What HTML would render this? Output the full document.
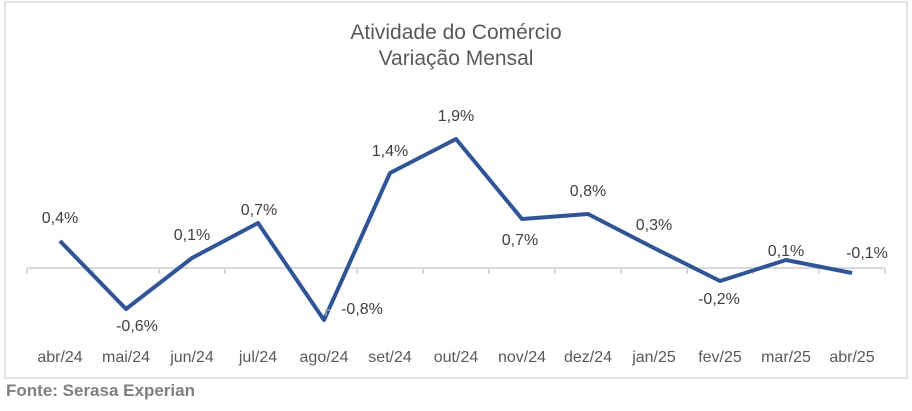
<!DOCTYPE html>
<html><head><meta charset="utf-8"><style>
body{margin:0;background:#fff;width:912px;height:406px;overflow:hidden;font-family:"Liberation Sans",sans-serif}
</style></head><body>
<svg width="912" height="406" xmlns="http://www.w3.org/2000/svg" font-family="Liberation Sans, sans-serif">
<rect x="5" y="2" width="902" height="376" fill="#fff" stroke="#d9d9d9" stroke-width="1.5"/>
<text x="456" y="39" text-anchor="middle" font-size="21" fill="#595959">Atividade do Comércio</text>
<text x="456" y="65" text-anchor="middle" font-size="21" fill="#595959">Variação Mensal</text>
<g stroke="#d9d9d9" stroke-width="2">
<line x1="27" y1="268" x2="885" y2="268"/>
<path d="M27 268v6M93 268v6M159 268v6M225 268v6M291 268v6M357 268v6M423 268v6M489 268v6M555 268v6M621 268v6M687 268v6M753 268v6M819 268v6M885 268v6"/>
</g>
<polyline fill="none" stroke="#2F5597" stroke-width="4" stroke-linejoin="round" points="60,241 126,309 192,258 258,223 324,320 390,173 456,139 522,219 588,214 654,248 720,281 786,260 852,273"/>
<path d="M326 316v-6h5" fill="none" stroke="#a6a6a6" stroke-width="1.5"/>
<g font-size="16" fill="#404040" text-anchor="middle">
<text x="60" y="223">0,4%</text>
<text x="137" y="331">-0,6%</text>
<text x="192" y="240">0,1%</text>
<text x="259" y="215">0,7%</text>
<text x="362" y="314">-0,8%</text>
<text x="390" y="156">1,4%</text>
<text x="456" y="121">1,9%</text>
<text x="520" y="245">0,7%</text>
<text x="588" y="196">0,8%</text>
<text x="654" y="230">0,3%</text>
<text x="719" y="304">-0,2%</text>
<text x="786" y="256">0,1%</text>
<text x="867" y="258">-0,1%</text>
</g>
<g font-size="16" fill="#595959" text-anchor="middle">
<text x="60" y="362">abr/24</text><text x="126" y="362">mai/24</text><text x="192" y="362">jun/24</text><text x="258" y="362">jul/24</text><text x="324" y="362">ago/24</text><text x="390" y="362">set/24</text><text x="456" y="362">out/24</text><text x="522" y="362">nov/24</text><text x="588" y="362">dez/24</text><text x="654" y="362">jan/25</text><text x="720" y="362">fev/25</text><text x="786" y="362">mar/25</text><text x="852" y="362">abr/25</text>
</g>
<text x="6" y="396" font-size="17" font-weight="bold" fill="#7f7f7f">Fonte: Serasa Experian</text>
</svg>
</body></html>
